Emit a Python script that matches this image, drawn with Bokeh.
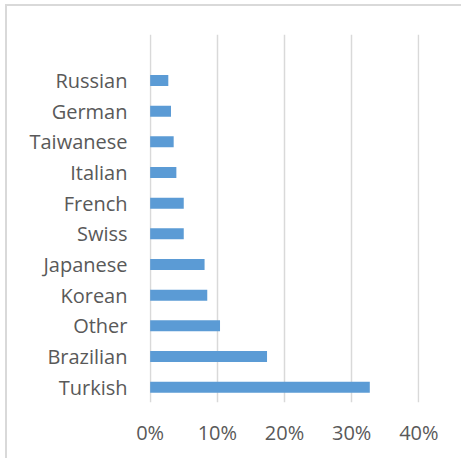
from bokeh.plotting import figure
from bokeh.models import Range1d, FactorRange, NumeralTickFormatter, FixedTicker, ColumnDataSource
from bokeh.embed import file_html
from bokeh.resources import INLINE

categories = ["Turkish", "Brazilian", "Other", "Korean", "Japanese", "Swiss",
              "French", "Italian", "Taiwanese", "German", "Russian"]
shares = [0.327, 0.174, 0.104, 0.085, 0.081, 0.050,
          0.050, 0.039, 0.035, 0.031, 0.027]
x_ticks = [0, 0.1, 0.2, 0.3, 0.4]

factors = categories + [" "]

src = ColumnDataSource(dict(cat=categories, val=shares))

p = figure(width=456, height=454, output_backend="svg", toolbar_location=None,
           y_range=FactorRange(factors=factors, range_padding=0),
           x_range=Range1d(-0.001, 0.401),
           min_border_left=142, min_border_right=44,
           min_border_top=28, min_border_bottom=58)
p.styles = {"border-left": "2px solid #d9d9d9", "border-top": "2px solid #d9d9d9",
            "margin-left": "5px", "margin-top": "4px"}
p.outline_line_color = None
p.background_fill_color = "white"
p.border_fill_color = "white"

p.hbar(y="cat", right="val", left=0, height=0.36, source=src,
       fill_color="#5B9BD5", line_color=None)

p.xaxis.ticker = FixedTicker(ticks=x_ticks)
p.xaxis.formatter = NumeralTickFormatter(format="0%")
p.xaxis.axis_line_color = None
p.xaxis.major_tick_line_color = None
p.xaxis.minor_tick_line_color = None
p.xaxis.major_tick_out = 0
p.xaxis.major_label_standoff = 16
p.xaxis.major_label_text_font = "Open Sans"
p.xaxis.major_label_text_font_size = "20px"
p.xaxis.major_label_text_color = "#595959"

p.yaxis.axis_line_color = None
p.yaxis.major_tick_line_color = None
p.yaxis.minor_tick_line_color = None
p.yaxis.major_tick_out = 0
p.yaxis.major_label_standoff = 22
p.yaxis.major_label_text_font = "Open Sans"
p.yaxis.major_label_text_font_size = "20px"
p.yaxis.major_label_text_color = "#595959"

p.ygrid.grid_line_color = None
p.xgrid.ticker = FixedTicker(ticks=x_ticks)
p.xgrid.grid_line_color = "#d9d9d9"
p.xgrid.grid_line_width = 1.5

open("out.html", "w").write(file_html(p, INLINE))
